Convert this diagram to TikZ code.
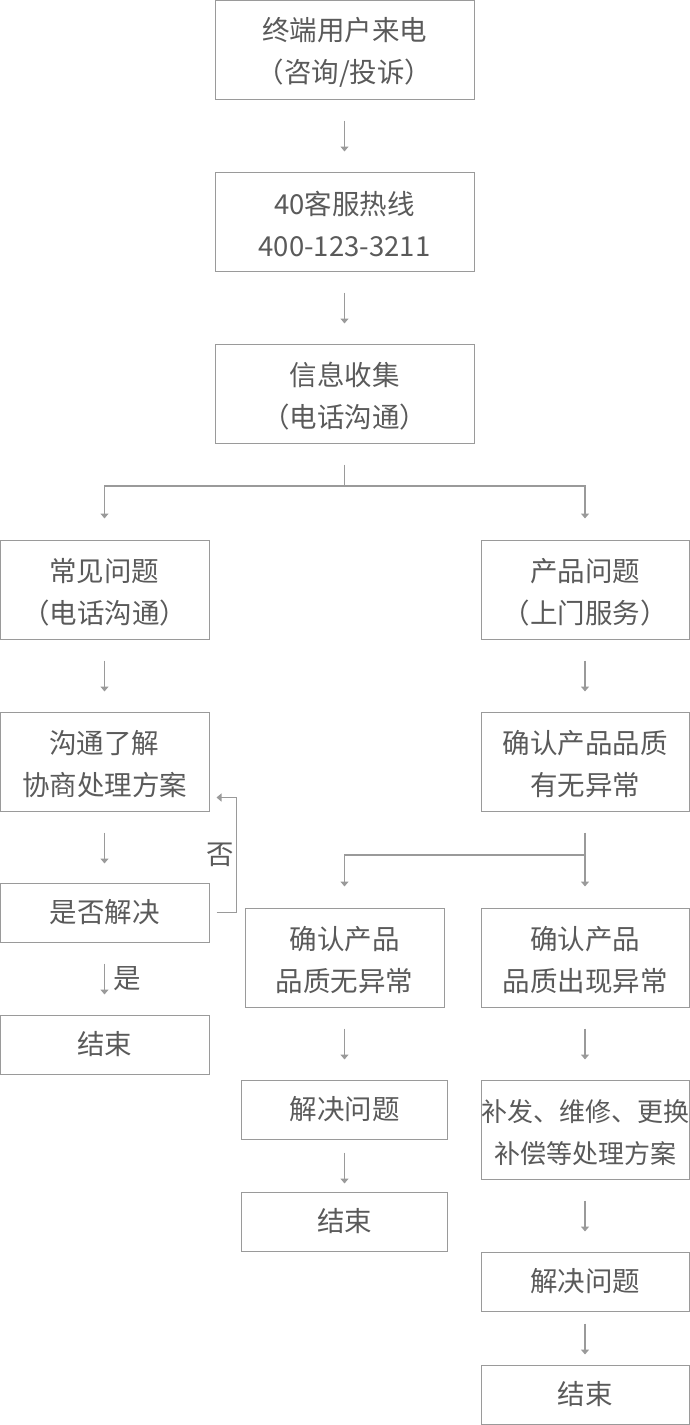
\documentclass[tikz,border=0pt]{standalone}
\usepackage{fontspec}
\setmainfont{Noto Sans CJK SC}
\usepackage{tikz}
\usetikzlibrary{arrows.meta,positioning}
\definecolor{linegray}{HTML}{9A9A9A}
\definecolor{textgray}{HTML}{5A5A5A}
\newcommand{\lift}{\rule{0pt}{28pt}}

\begin{document}
\begin{tikzpicture}[x=1pt, y=-1pt,
  frame/.style={draw=linegray, line width=1pt, align=center, inner sep=0pt, text=textgray,
    font=\fontsize{27.5}{42}\selectfont, minimum width=#1},
  box/.style={frame=#1, minimum height=99pt},
  box/.default=259pt,
  flat/.style={frame=#1, minimum height=59pt},
  flat/.default=209pt,
  arrow/.style={-{Triangle[width=8pt, length=5pt]}, linegray, line width=1.5pt},
  lbl/.style={text=textgray, font=\fontsize{27.5}{30}\selectfont, inner sep=0pt},
]
\useasboundingbox (0,0) rectangle (690,1425);
% --- main column ---
\node[box] (call) at (344.5,49.5) {\lift 终端用户来电\\（咨询/投诉）};
\node[box, below=72pt of call] (hotline) {\lift 40客服热线\\400-123-3211};
\node[box, below=72pt of hotline] (collect) {\lift 信息收集\\（电话沟通）};
% --- left branch ---
\node[box=209pt] (common) at (104.5,589.5) {\lift 常见问题\\（电话沟通）};
\node[box=209pt, below=72pt of common] (talk) {\lift 沟通了解\\协商处理方案};
\node[flat, below=71pt of talk] (solved) {是否解决};
\node[flat, below=72pt of solved] (endL) {结束};
% --- right branch ---
\node[box=208pt] (product) at (585,589.5) {\lift 产品问题\\（上门服务）};
\node[box=208pt, below=72pt of product] (check) {\lift 确认产品品质\\有无异常};
\node[box=199pt] (normal) at (344.5,957.5) {\lift 确认产品\\品质无异常};
\node[box=208pt] (abnormal) at (585,957.5) {\lift 确认产品\\品质出现异常};
\node[flat=206pt, below=72pt of normal] (fixM) {解决问题};
\node[flat=206pt, below=52pt of fixM] (endM) {结束};
\node[box=208pt, below=72pt of abnormal, font=\fontsize{26}{42}\selectfont] (plan) {\lift 补发、维修、更换\\补偿等处理方案};
\node[flat=208pt, below=72pt of plan] (fixR) {解决问题};
\node[flat=208pt, below=53pt of fixR] (endR) {结束};
% --- arrows ---
\draw[arrow] ([yshift=-21pt]call.south) -- ([yshift=20pt]hotline.north);
\draw[arrow] ([yshift=-21pt]hotline.south) -- ([yshift=20pt]collect.north);
\coordinate (split) at (344.5,486);
\draw[arrow] ([yshift=-21pt]collect.south) -- (split) -| ([yshift=21pt]common.north);
\draw[arrow] (split) -| ([yshift=21pt]product.north);
\draw[arrow] ([yshift=-21pt]common.south) -- ([yshift=20pt]talk.north);
\draw[arrow] ([yshift=-21pt]product.south) -- ([yshift=20pt]check.north);
\draw[arrow] ([yshift=-21pt]talk.south) -- ([yshift=19pt]solved.north);
\draw[arrow] ([xshift=7pt]solved.east) -- ++(20,0) |- ([xshift=7pt, yshift=14pt]talk.south east)
  node[lbl, pos=0.25, left=2pt] {否};
\draw[arrow] ([yshift=-21pt]solved.south) -- ([yshift=20pt]endL.north)
  node[lbl, midway, right=8pt] {是};
\coordinate (fork) at (585,855);
\draw[arrow] ([yshift=-21pt]check.south) -- ([yshift=21pt]abnormal.north);
\draw[arrow] (fork) -| ([yshift=21pt]normal.north);
\draw[arrow] ([yshift=-21pt]normal.south) -- ([yshift=20pt]fixM.north);
\draw[arrow] ([yshift=-13pt]fixM.south) -- ([yshift=8pt]endM.north);
\draw[arrow] ([yshift=-21pt]abnormal.south) -- ([yshift=20pt]plan.north);
\draw[arrow] ([yshift=-21pt]plan.south) -- ([yshift=20pt]fixR.north);
\draw[arrow] ([yshift=-12pt]fixR.south) -- ([yshift=10pt]endR.north);
\end{tikzpicture}
\end{document}
